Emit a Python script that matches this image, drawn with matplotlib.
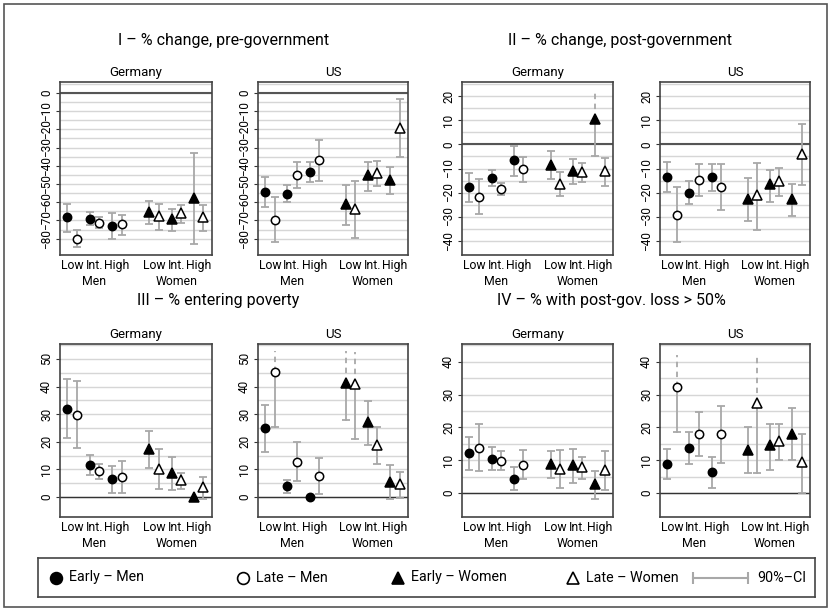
import matplotlib
matplotlib.use("Agg")
import matplotlib.pyplot as plt
from matplotlib.patches import Rectangle

plt.rcParams['font.family'] = ['Roboto', 'DejaVu Sans']

levels = ['Low', 'Int.', 'High']
groups = ['Men', 'Women']

# each list: Men Low, Int., High, Women Low, Int., High
# I - % change, pre-government
pre_de_early = [-68.1, -69.0, -73.0, -65.4, -69.0, -57.5]
pre_de_early_ci = [(-76.3, -60.8), (-72.7, -65.4), (-80.4, -65.8), (-72.1, -59.4), (-75.8, -63.9), (-82.7, -33.2)]
pre_de_late = [-80.0, -71.2, -72.1, -67.6, -65.8, -68.1]
pre_de_late_ci = [(-84.6, -75.4), (-74.0, -68.1), (-77.8, -66.8), (-75.4, -60.8), (-71.2, -61.4), (-75.8, -61.4)]
pre_us_early = [-54.4, -55.3, -43.5, -60.8, -45.3, -47.7]
pre_us_early_ci = [(-62.5, -46.2), (-59.7, -50.8), (-48.8, -38.0), (-72.7, -50.4), (-53.7, -38.0), (-55.3, -40.7)]
pre_us_late = [-69.8, -45.1, -37.1, -63.6, -43.7, -19.0]
pre_us_late_ci = [(-81.8, -57.2), (-52.0, -38.0), (-48.6, -25.6), (-79.8, -48.6), (-51.3, -37.6), (-35.3, -3.5)]

# II - % change, post-government
post_de_early = [-17.9, -13.9, -6.6, -8.4, -10.9, 10.6]
post_de_early_ci = [(-24.0, -11.7), (-17.2, -10.5), (-13.2, -0.6), (-14.5, -2.8), (-16.4, -5.9), (-4.7, 22.8)]
post_de_late = [-21.7, -18.5, -10.3, -16.3, -11.4, -11.2]
post_de_late_ci = [(-28.8, -14.2), (-21.0, -16.1), (-15.6, -5.2), (-21.5, -11.3), (-15.6, -7.7), (-17.2, -5.5)]
post_us_early = [-13.5, -20.1, -13.7, -22.5, -16.6, -22.8]
post_us_early_ci = [(-19.7, -7.4), (-24.7, -15.4), (-19.2, -8.1), (-31.7, -13.8), (-23.9, -10.6), (-29.7, -16.6)]
post_us_late = [-29.2, -14.9, -17.5, -21.1, -15.0, -3.9]
post_us_late_ci = [(-40.7, -17.5), (-21.5, -8.1), (-27.3, -8.0), (-35.4, -7.7), (-21.4, -9.7), (-16.7, 8.7)]

# III - % entering poverty
pov_de_early = [32.0, 11.5, 6.4, 17.5, 8.6, 0.2]
pov_de_early_ci = [(21.5, 42.8), (7.9, 15.2), (1.5, 11.4), (10.7, 24.0), (2.4, 14.4), (0.2, 0.2)]
pov_de_late = [29.6, 9.3, 7.3, 10.3, 6.1, 3.5]
pov_de_late_ci = [(17.6, 42.0), (6.7, 12.1), (1.5, 13.0), (2.8, 17.4), (3.0, 8.7), (-0.6, 7.3)]
pov_us_early = [25.0, 3.9, 0.0, 41.4, 27.1, 5.6]
pov_us_early_ci = [(16.5, 33.5), (1.5, 6.1), (0.0, 0.0), (27.8, 52.9), (18.9, 34.7), (-0.7, 11.7)]
pov_us_late = [45.1, 12.7, 7.5, 40.9, 18.8, 4.6]
pov_us_late_ci = [(25.2, 52.8), (5.7, 19.8), (1.0, 14.0), (21.2, 52.5), (12.0, 25.2), (-0.5, 9.1)]

# IV - % with post-gov. loss > 50%
loss_de_early = [12.2, 10.3, 4.4, 8.7, 8.4, 2.7]
loss_de_early_ci = [(7.1, 17.2), (7.1, 13.9), (0.9, 7.9), (4.6, 12.7), (3.0, 13.4), (-1.7, 6.7)]
loss_de_late = [13.8, 9.9, 8.6, 7.4, 7.8, 7.0]
loss_de_late_ci = [(6.6, 20.9), (7.1, 12.9), (4.4, 13.1), (1.4, 13.2), (4.4, 10.9), (0.8, 12.9)]
loss_us_early = [8.9, 13.8, 6.3, 13.2, 14.5, 18.0]
loss_us_early_ci = [(4.3, 13.5), (8.9, 18.5), (1.5, 11.1), (6.1, 20.0), (7.0, 21.0), (10.0, 26.0)]
loss_us_late = [32.4, 18.1, 17.9, 27.3, 16.0, 9.5]
loss_us_late_ci = [(18.7, 42.2), (11.4, 24.8), (9.3, 26.6), (6.0, 42.0), (10.0, 21.0), (0.0, 18.0)]

# intervals that run past the plot are drawn dashed above the estimate
dashed = {
    'post_de_early': [5],
    'pov_us_early': [3],
    'pov_us_late': [0, 3],
    'loss_us_late': [0, 3],
}

panels = [
    ('I \u2013 % change, pre-government', 'pre', (-89, 6), range(-80, 1, 10)),
    ('II \u2013 % change, post-government', 'post', (-46, 26), range(-40, 21, 10)),
    ('III \u2013 % entering poverty', 'pov', (-7.2, 55.4), range(0, 51, 10)),
    ('IV \u2013 % with post-gov. loss > 50%', 'loss', (-7.3, 45.4), range(0, 41, 10)),
]

data = globals()
xpos = [1, 2, 3, 4.65, 5.65, 6.65]
off = 0.21
ci_col = '#a8a8a8'
W, H = 831, 611

fig = plt.figure(figsize=(W / 100, H / 100), dpi=100)

# axes boxes in pixels: left, top, width, height
boxes = {
    ('pre', 'de'): (60, 82, 152, 173), ('pre', 'us'): (258, 82, 150, 173),
    ('post', 'de'): (462, 82, 151, 173), ('post', 'us'): (660, 82, 150, 173),
    ('pov', 'de'): (60, 344, 152, 173), ('pov', 'us'): (258, 344, 150, 173),
    ('loss', 'de'): (462, 344, 151, 173), ('loss', 'us'): (660, 344, 150, 173),
}
title_pos = {'pre': (224, 40), 'post': (620, 40), 'pov': (218, 301), 'loss': (611, 301)}


def draw_series(ax, name, shift, markers, fills):
    est = data[name]
    ci = data[name + '_ci']
    for i in range(6):
        x = xpos[i] + shift
        lo, hi = ci[i]
        if i in dashed.get(name, []):
            ax.plot([x, x], [lo, est[i]], color=ci_col, lw=1.3, zorder=3)
            ax.plot([x, x], [est[i], hi], color=ci_col, lw=1.3, ls=(0, (3, 2.5)), zorder=3)
            ax.plot(x, lo, marker='_', ms=6, mew=1.3, color=ci_col, zorder=3)
        elif hi > lo:
            ax.errorbar(x, est[i], yerr=[[est[i] - lo], [hi - est[i]]], fmt='none',
                        ecolor=ci_col, elinewidth=1.3, capsize=3, capthick=1.3, zorder=3)
        m = markers[0] if i < 3 else markers[1]
        ax.plot(x, est[i], marker=m, ms=6 if m == 'o' else 6.5, mfc=fills, mec='black',
                mew=1.1, ls='none', zorder=5, clip_on=False)


for title, key, ylim, yt in panels:
    tx, ty = title_pos[key]
    fig.text(tx / W, 1 - ty / H, title, ha='center', va='center', fontsize=11.5)
    for country, cname in [('de', 'Germany'), ('us', 'US')]:
        l, t, w, h = boxes[(key, country)]
        ax = fig.add_axes([l / W, 1 - (t + h) / H, w / W, h / H])
        ax.set_xlim(0.46, 7.24)
        ax.set_ylim(*ylim)
        ax.set_yticks(list(yt))
        ax.set_yticks([v + 5 for v in yt], minor=True)
        ax.grid(True, which='both', axis='y', color='#d6d6d6', lw=1.0, zorder=0)
        ax.axhline(0, color='#555555' if key in ('pre', 'post') else '#333333',
                   lw=1.5 if key in ('pre', 'post') else 1.0, zorder=2)
        ax.set_yticklabels([str(v).replace('-', '\u2212') for v in yt], rotation=90,
                           va='center', fontsize=8.5)
        ax.tick_params(axis='y', which='major', length=3, pad=2, color='#333333')
        ax.tick_params(axis='y', which='minor', length=0)
        ax.set_xticks(xpos)
        ax.set_xticklabels(levels * 2, fontsize=8.8)
        ax.tick_params(axis='x', length=0, pad=3)
        for s in ax.spines.values():
            s.set_color('#444444')
            s.set_linewidth(1.2)
        ax.set_title(cname, fontsize=9.5, pad=4)
        for gx, g in zip([2, 5.65], groups):
            ax.text(gx, -0.155, g, transform=ax.get_xaxis_transform(), ha='center',
                    va='center', fontsize=8.8)
        draw_series(ax, key + '_' + country + '_early', -off, ['o', '^'], 'black')
        draw_series(ax, key + '_' + country + '_late', off, ['o', '^'], 'white')

# legend
lx0, lx1 = 38, 815
lax = fig.add_axes([lx0 / W, 1 - 597 / H, (lx1 - lx0) / W, 39 / H])
lax.set_xlim(lx0, lx1)
lax.set_ylim(0, 1)
lax.set_xticks([])
lax.set_yticks([])
for s in lax.spines.values():
    s.set_color('#444444')
    s.set_linewidth(1.2)
items = [(56, 'o', 'black', 'Early \u2013 Men'), (243, 'o', 'white', 'Late \u2013 Men'),
         (398, '^', 'black', 'Early \u2013 Women'), (573, '^', 'white', 'Late \u2013 Women')]
for x, m, fc, txt in items:
    lax.plot(x, 0.5, marker=m, ms=8.5, mfc=fc, mec='black', mew=1.2, ls='none')
    lax.text(x + 13, 0.5, txt, ha='left', va='center', fontsize=10.3)
lax.plot([693, 748], [0.5, 0.5], color=ci_col, lw=1.5)
lax.plot([693, 748], [0.5, 0.5], marker='|', ms=9, mew=1.5, color=ci_col, ls='none')
lax.text(757, 0.5, '90%\u2013CI', ha='left', va='center', fontsize=10.3)

fig.patches.append(Rectangle((4 / W, 4 / H), 1 - 8 / W, 1 - 8 / H, transform=fig.transFigure,
                             fill=False, ec='#555555', lw=1.2))

fig.savefig('out.png', dpi=100)
